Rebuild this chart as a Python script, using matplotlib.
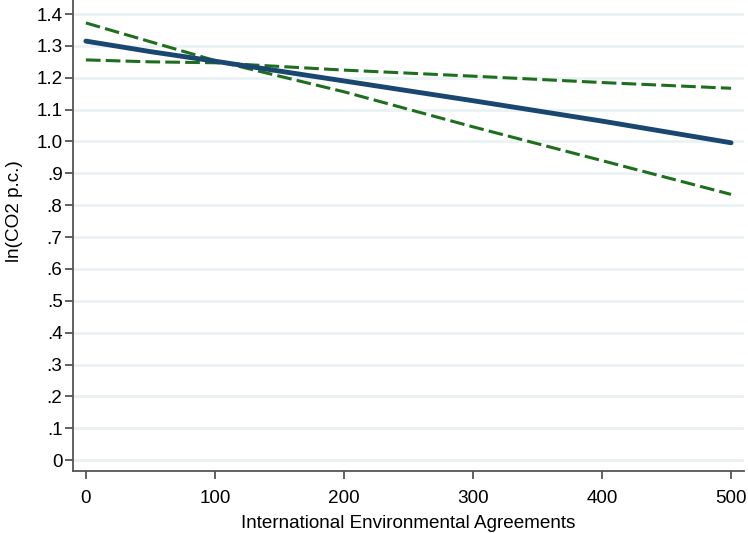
import matplotlib.pyplot as plt
import numpy as np

plt.rcParams['font.family'] = ['Liberation Sans', 'DejaVu Sans']

# values
agreements = [0, 50, 100, 200, 300, 400, 500]
fitted = [1.315, 1.282, 1.252, 1.190, 1.128, 1.064, 0.996]
band_a = [1.372, 1.313, 1.254, 1.156, 1.046, 0.940, 0.834]
band_b = [1.256, 1.250, 1.247, 1.224, 1.205, 1.185, 1.167]

y_ticks = np.round(np.arange(0, 1.41, 0.1), 1)
y_labels = ['0', '.1', '.2', '.3', '.4', '.5', '.6', '.7', '.8', '.9',
            '1.0', '1.1', '1.2', '1.3', '1.4']
x_ticks = [0, 100, 200, 300, 400, 500]

fig = plt.figure(figsize=(7.48, 5.33), dpi=100)
ax = fig.add_axes([0.0976, 0.1163, 0.897, 0.8837])

for yv in y_ticks:
    ax.axhline(yv, color='#eaf2f3', lw=2, zorder=0)

ax.plot(agreements, band_a, color='#1f6e1f', lw=2.2, ls=(0, (4.8, 1.7)))
ax.plot(agreements, band_b, color='#1f6e1f', lw=2.2, ls=(0, (4.8, 1.7)))
ax.plot(agreements, fitted, color='#1a476f', lw=3.5, solid_capstyle='round')

ax.set_xlim(-10, 510)
ax.set_ylim(-0.034, 1.444)
ax.set_xticks(x_ticks)
ax.set_yticks(y_ticks)
ax.set_yticklabels(y_labels)

for s in ['top', 'right']:
    ax.spines[s].set_visible(False)
for s in ['left', 'bottom']:
    ax.spines[s].set_color('#555555')
    ax.spines[s].set_linewidth(1.3)
ax.tick_params(colors='#555555', labelcolor='black', labelsize=13.6, width=1.3)
ax.tick_params(axis='y', length=6, pad=1.5)
ax.tick_params(axis='x', length=6, pad=7.5)

ax.set_xlabel('International Environmental Agreements', fontsize=13.6, labelpad=6)
ax.set_ylabel('ln(CO2 p.c.)', fontsize=13.6, va='center')
ax.yaxis.set_label_coords(-0.087, 0.552)

plt.savefig('out.png', dpi=100)
